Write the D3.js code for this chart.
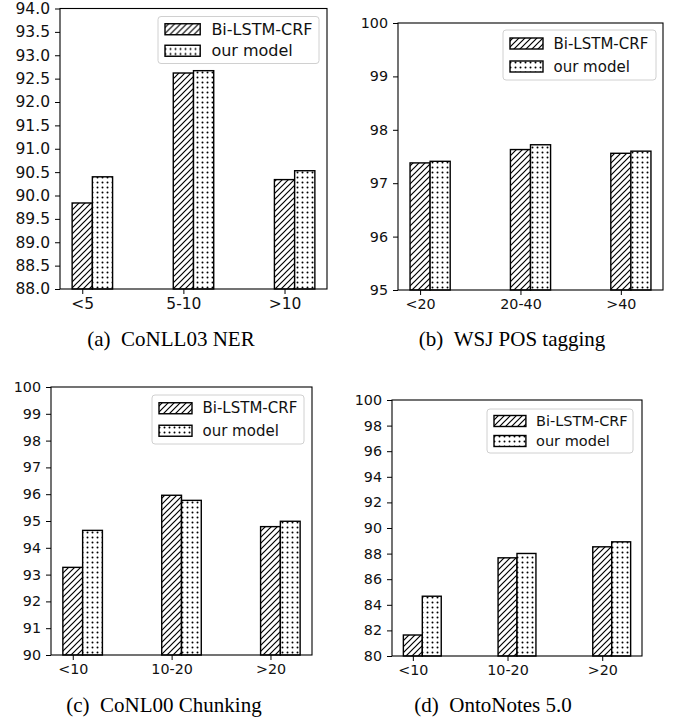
<!DOCTYPE html>
<html>
<head>
<meta charset="utf-8">
<script src="https://cdn.jsdelivr.net/npm/d3@7"></script>
<style>
  html, body { margin: 0; padding: 0; background: #fff; }
</style>
</head>
<body>
<div id="chart"></div>
<script>
// data
const seriesNames = ["Bi-LSTM-CRF", "our model"];

const catsA = ["<5", "5-10", ">10"];
const biA = [89.84, 92.62, 90.34];
const ourA = [90.40, 92.67, 90.53];
const ticksA = [88.0, 88.5, 89.0, 89.5, 90.0, 90.5, 91.0, 91.5, 92.0, 92.5, 93.0, 93.5, 94.0];

const catsB = ["<20", "20-40", ">40"];
const biB = [97.38, 97.63, 97.56];
const ourB = [97.41, 97.72, 97.60];
const ticksB = [95, 96, 97, 98, 99, 100];

const catsC = ["<10", "10-20", ">20"];
const biC = [93.27, 95.96, 94.79];
const ourC = [94.65, 95.77, 94.99];
const ticksC = [90, 91, 92, 93, 94, 95, 96, 97, 98, 99, 100];

const catsD = ["<10", "10-20", ">20"];
const biD = [81.64, 87.67, 88.53];
const ourD = [84.67, 88.01, 88.92];
const ticksD = [80, 82, 84, 86, 88, 90, 92, 94, 96, 98, 100];

const captions = ["(a)\u2002CoNLL03 NER", "(b)\u2002WSJ POS tagging", "(c)\u2002CoNL00 Chunking", "(d)\u2002OntoNotes 5.0"];

// layout of the four panels (pixels)
const panels = [
    {cats: catsA, bi: biA, our: ourA, ticks: ticksA, fmt: d3.format(".1f"),
     left: 60, right: 327, top: 8.5, bottom: 289, font: 15.5,
     legend: {w: 161, h: 47, gap: 8, font: 16}, cap: {x: 171, y: 346}},
    {cats: catsB, bi: biB, our: ourB, ticks: ticksB, fmt: d3.format("d"),
     left: 398, right: 663, top: 23, bottom: 290, font: 14.3,
     legend: {w: 153, h: 50, gap: 7, font: 15}, cap: {x: 512, y: 346}},
    {cats: catsC, bi: biC, our: ourC, ticks: ticksC, fmt: d3.format("d"),
     left: 51, right: 312, top: 387, bottom: 655, font: 14.3,
     legend: {w: 152, h: 49, gap: 8, font: 15}, cap: {x: 164, y: 712}},
    {cats: catsD, bi: biD, our: ourD, ticks: ticksD, fmt: d3.format("d"),
     left: 392, right: 642, top: 400, bottom: 656, font: 14.3,
     legend: {w: 146, h: 44, gap: 9, font: 14.5}, cap: {x: 493, y: 712}}
];

const width = 677, height = 721;
const svg = d3.select("#chart").append("svg")
    .attr("width", width)
    .attr("height", height)
    .attr("viewBox", `0 0 ${width} ${height}`);

// hatch patterns
const defs = svg.append("defs");
const hatch = defs.append("pattern")
    .attr("id", "hatch")
    .attr("patternUnits", "userSpaceOnUse")
    .attr("width", 6).attr("height", 6);
hatch.append("rect").attr("width", 6).attr("height", 6).attr("fill", "#fff");
hatch.append("path")
    .attr("d", "M-1,1 l2,-2 M0,6 l6,-6 M5,7 l2,-2")
    .attr("stroke", "#000")
    .attr("stroke-width", 1.2);

const dots = defs.append("pattern")
    .attr("id", "dots")
    .attr("patternUnits", "userSpaceOnUse")
    .attr("width", 5).attr("height", 5);
dots.append("rect").attr("width", 5).attr("height", 5).attr("fill", "#fff");
dots.append("circle").attr("cx", 2.5).attr("cy", 2.5).attr("r", 1).attr("fill", "#000");

const fills = ["url(#hatch)", "url(#dots)"];

panels.forEach((p, k) => {
    const g = svg.append("g");
    const x = d3.scaleLinear().domain([-0.22, 2.42]).range([p.left, p.right]);
    const y = d3.scaleLinear().domain([p.ticks[0], p.ticks[p.ticks.length - 1]]).range([p.bottom, p.top]);

    // bars: hatched centred on the tick, dotted right next to it
    const rows = p.cats.map((c, i) => ({i, bi: p.bi[i], our: p.our[i]}));
    g.selectAll(".bar-bi")
        .data(rows)
        .join("rect")
        .attr("class", "bar-bi")
        .attr("x", d => x(d.i - 0.1))
        .attr("width", d => x(d.i + 0.1) - x(d.i - 0.1))
        .attr("y", d => y(d.bi))
        .attr("height", d => y.range()[0] - y(d.bi))
        .attr("fill", fills[0])
        .attr("stroke", "#000")
        .attr("stroke-width", 1.4);

    g.selectAll(".bar-our")
        .data(rows)
        .join("rect")
        .attr("class", "bar-our")
        .attr("x", d => x(d.i + 0.1))
        .attr("width", d => x(d.i + 0.3) - x(d.i + 0.1))
        .attr("y", d => y(d.our))
        .attr("height", d => y.range()[0] - y(d.our))
        .attr("fill", fills[1])
        .attr("stroke", "#000")
        .attr("stroke-width", 1.4);

    // axes
    const yAxis = g.append("g")
        .attr("transform", `translate(${p.left},0)`)
        .call(d3.axisLeft(y).tickValues(p.ticks).tickFormat(p.fmt).tickSize(5).tickPadding(5));
    const xAxis = g.append("g")
        .attr("transform", `translate(0,${p.bottom})`)
        .call(d3.axisBottom(x).tickValues([0, 1, 2]).tickFormat(i => p.cats[i]).tickSize(5).tickPadding(4));
    [yAxis, xAxis].forEach(a => {
        a.select(".domain").remove();
        a.selectAll("line").attr("stroke", "#000").attr("stroke-width", 1);
        a.selectAll("text")
            .attr("fill", "#111")
            .attr("font-family", "DejaVu Sans")
            .attr("font-size", p.font + "px");
    });

    g.append("rect")
        .attr("x", p.left)
        .attr("y", p.top)
        .attr("width", p.right - p.left)
        .attr("height", p.bottom - p.top)
        .attr("fill", "none")
        .attr("stroke", "#000")
        .attr("stroke-width", 1.1);

    // legend
    const L = p.legend;
    const lx = p.right - L.gap - L.w;
    const ly = p.top + L.gap;
    const leg = g.append("g").attr("transform", `translate(${lx},${ly})`);
    leg.append("rect")
        .attr("width", L.w)
        .attr("height", L.h)
        .attr("rx", 3)
        .attr("fill", "#fff")
        .attr("fill-opacity", 0.85)
        .attr("stroke", "#d0d0d0")
        .attr("stroke-width", 1);
    const rowH = L.h / 2;
    seriesNames.forEach((name, j) => {
        const cy = rowH * (j + 0.5) + (j === 0 ? 1 : -1);
        leg.append("rect")
            .attr("x", 7)
            .attr("y", cy - 5.5)
            .attr("width", L.font * 2.2)
            .attr("height", 11)
            .attr("fill", fills[j])
            .attr("stroke", "#000")
            .attr("stroke-width", 1.4);
        leg.append("text")
            .attr("x", 7 + L.font * 2.2 + L.font * 0.7)
            .attr("y", cy)
            .attr("dominant-baseline", "central")
            .attr("font-family", "DejaVu Sans")
            .attr("font-size", L.font + "px")
            .attr("fill", "#111")
            .text(name);
    });

    // sub-caption
    svg.append("text")
        .attr("x", p.cap.x)
        .attr("y", p.cap.y)
        .attr("text-anchor", "middle")
        .attr("font-family", "Liberation Serif")
        .attr("font-size", "21px")
        .attr("fill", "#000")
        .text(captions[k]);
});
</script>
</body>
</html>
